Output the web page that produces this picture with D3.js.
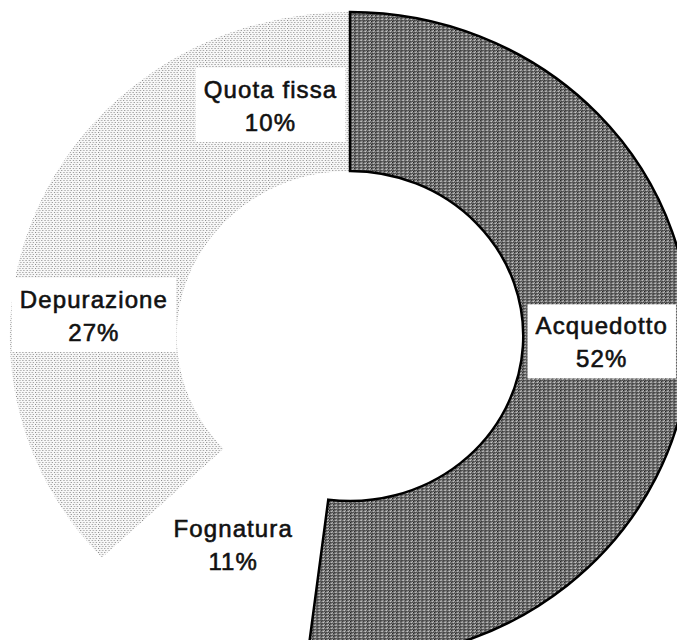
<!DOCTYPE html>
<html lang="it">
<head>
<meta charset="UTF-8">
<title>Ripartizione tariffa</title>
<script src="https://d3js.org/d3.v7.min.js"></script>
<style>
  html, body { margin: 0; padding: 0; background: #fff; }
  svg { display: block; }
  .lbl { font-family: "Liberation Sans", Arial, sans-serif; font-size: 24px; fill: #111; stroke: #111; stroke-width: 0.6px; letter-spacing: 1.1px; }
</style>
</head>
<body>
<svg></svg>
<script>
  const width = 677, height = 640;

  // data
  const categories = ["Acquedotto", "Fognatura", "Depurazione", "Quota fissa"];
  const shares = [52, 11, 27, 10];
  const fills = ["url(#dark)", "#ffffff", "url(#light)", "url(#light)"];

  const svg = d3.select("svg").attr("width", width).attr("height", height);

  // dithered textures like the scan
  const defs = svg.append("defs");
  const dark = defs.append("pattern").attr("id", "dark")
      .attr("width", 4).attr("height", 3).attr("patternUnits", "userSpaceOnUse");
  dark.append("rect").attr("width", 4).attr("height", 3).attr("fill", "#727272");
  [[0, 0, "#1a1a1a"], [2, 1, "#e4e4e4"], [1, 2, "#2a2a2a"], [3, 0, "#bcbcbc"], [3, 2, "#484848"]]
    .forEach(([x, y, c]) => dark.append("rect").attr("x", x).attr("y", y).attr("width", 1).attr("height", 1).attr("fill", c));

  const light = defs.append("pattern").attr("id", "light")
      .attr("width", 6).attr("height", 4).attr("patternUnits", "userSpaceOnUse");
  light.append("rect").attr("width", 6).attr("height", 4).attr("fill", "#f8f8f8");
  [[0, 0], [3, 0], [1, 2], [4, 2]]
    .forEach(([x, y]) => light.append("rect").attr("x", x).attr("y", y).attr("width", 1).attr("height", 1).attr("fill", "#888"));

  const cx = 350, cy = 336, sx = 1.05;
  const rOuter = 324, rInner = 165;

  const pie = d3.pie().sort(null).value(d => d.v);
  const arcs = pie(categories.map((c, i) => ({ name: c, v: shares[i], fill: fills[i] })));
  const arc = d3.arc().innerRadius(rInner).outerRadius(rOuter);
  const labelArc = d3.arc().innerRadius(245).outerRadius(245);

  const g = svg.append("g").attr("transform", `translate(${cx},${cy}) scale(${sx},1)`);

  // light slices first, dark slice with its black edge on top
  g.selectAll("path.slice")
    .data(arcs.slice().reverse())
    .join("path")
    .attr("class", "slice")
    .attr("d", arc)
    .attr("fill", d => d.data.fill)
    .attr("stroke", d => d.index === 0 ? "#000" : "none")
    .attr("stroke-width", 2.5)
    .attr("vector-effect", "non-scaling-stroke");

  // labels with white boxes; the lower/right ones sit a little higher in the scan
  const lg = svg.append("g").attr("transform", `translate(${cx},${cy})`);
  const label = lg.selectAll("g.label")
    .data(arcs)
    .join("g")
    .attr("class", "label")
    .attr("transform", d => {
      const [x, y] = labelArc.centroid(d);
      return `translate(${x * sx - (x > 0 ? 5 : 0)},${y > 0 ? y - 12 : y})`;
    });

  label.append("rect").attr("fill", "#fff");
  const txt = label.append("text").attr("class", "lbl").attr("text-anchor", "middle");
  txt.append("tspan").attr("x", 0).attr("y", -5).text(d => d.data.name);
  txt.append("tspan").attr("x", 0).attr("y", 28).text(d => d.data.v + "%");

  label.each(function (d) {
    if (d.index === 1) return; // Fognatura sits on white already
    const t = d3.select(this).select("text").node().getBBox();
    d3.select(this).select("rect")
      .attr("x", t.x - 8).attr("y", t.y - 8)
      .attr("width", t.width + 16).attr("height", t.height + 14);
  });
</script>
</body>
</html>
